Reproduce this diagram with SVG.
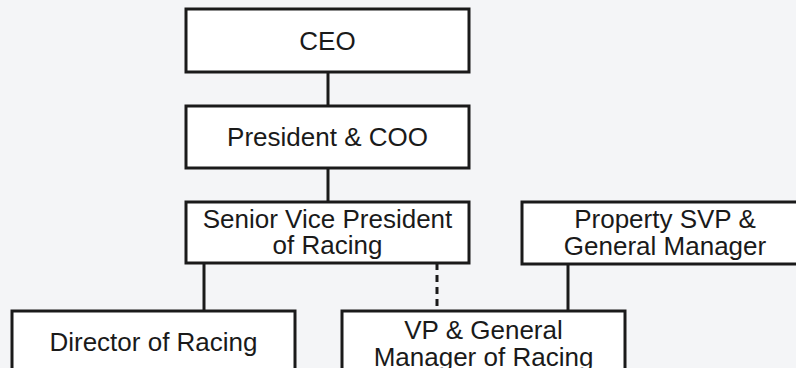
<svg xmlns="http://www.w3.org/2000/svg" width="796" height="368" viewBox="0 0 796 368">
<style>
.box{fill:#ffffff;stroke:#1a1a1a;stroke-width:3}
.t{font-family:"Liberation Sans",Arial,sans-serif;font-size:26px;fill:#1a1a1a;text-anchor:middle}
.c{stroke:#1a1a1a;stroke-width:3;fill:none}
.d{stroke-dasharray:7,5}
</style>
<rect width="796" height="368" fill="#f4f5f7"/>
<g id="connectors">
<line class="c" x1="328" y1="72" x2="328" y2="106"/>
<line class="c" x1="328" y1="168" x2="328" y2="202"/>
<line class="c" x1="204" y1="263" x2="204" y2="311"/>
<line class="c d" x1="437" y1="263" x2="437" y2="311"/>
<line class="c" x1="568" y1="264" x2="568" y2="311"/>
</g>
<g id="ceo"><rect class="box" x="186" y="9" width="283" height="63"/><text class="t" x="327.5" y="50">CEO</text></g>
<g id="president"><rect class="box" x="186" y="106" width="283" height="62"/><text class="t" x="327.5" y="146">President &amp; COO</text></g>
<g id="svp"><rect class="box" x="186" y="202" width="283" height="61"/><text class="t" x="327.5" y="228">Senior Vice President</text><text class="t" x="327.5" y="254">of Racing</text></g>
<g id="property"><rect class="box" x="522" y="202" width="290" height="62"/><text class="t" x="665" y="228">Property SVP &amp;</text><text class="t" x="665" y="255">General Manager</text></g>
<g id="director"><rect class="box" x="12" y="311" width="283" height="70"/><text class="t" x="153.5" y="351">Director of Racing</text></g>
<g id="vp"><rect class="box" x="342" y="311" width="283" height="70"/><text class="t" x="483.5" y="339">VP &amp; General</text><text class="t" x="483.5" y="366">Manager of Racing</text></g>
</svg>
